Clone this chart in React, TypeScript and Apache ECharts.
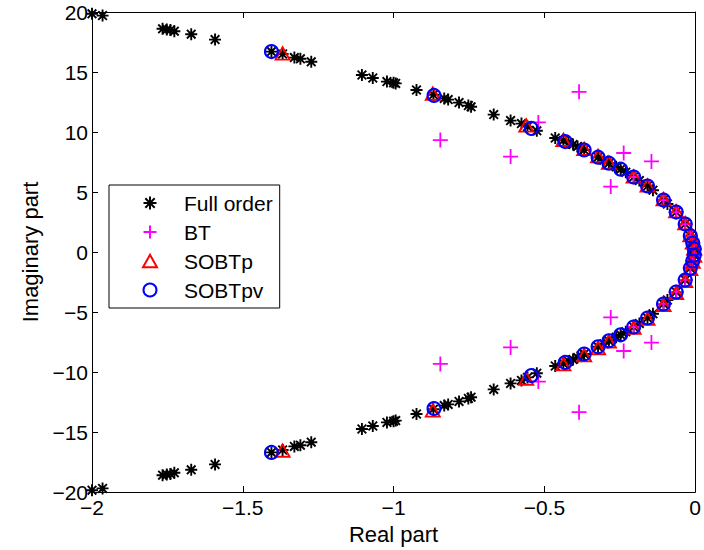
import React, { useEffect, useRef } from "react";
import * as echarts from "echarts";

// Upper-half eigenvalues [real, imag]; the lower half holds their conjugates (as seen in the picture)
const fullOrderUpper: number[][] = [
  [-2.0, 19.85], [-1.965, 19.7], [-1.766, 18.6], [-1.752, 18.55], [-1.74, 18.5], [-1.727, 18.4],
  [-1.671, 18.15], [-1.592, 17.7], [-1.405, 16.7], [-1.368, 16.5], [-1.329, 16.2], [-1.309, 16.1],
  [-1.273, 15.85], [-1.105, 14.75], [-1.069, 14.5], [-1.022, 14.2], [-1.0, 14.1], [-0.993, 14.05],
  [-0.924, 13.5], [-0.868, 13.1], [-0.832, 12.8], [-0.819, 12.7], [-0.783, 12.45], [-0.752, 12.2],
  [-0.743, 12.1], [-0.668, 11.45], [-0.612, 10.95], [-0.576, 10.7], [-0.556, 10.45], [-0.525, 10.1],
  [-0.464, 9.5], [-0.437, 9.3], [-0.42, 9.1], [-0.405, 8.95], [-0.39, 8.8], [-0.378, 8.65],
  [-0.368, 8.5], [-0.322, 7.9], [-0.303, 7.65], [-0.286, 7.4], [-0.262, 7.1], [-0.247, 6.9],
  [-0.23, 6.65], [-0.204, 6.25], [-0.185, 5.95], [-0.158, 5.5], [-0.14, 5.15], [-0.105, 4.33],
  [-0.092, 4.0], [-0.063, 3.33], [-0.033, 2.33], [-0.016, 1.35], [-0.008, 0.75], [-0.003, 0.25],
];

const btUpper: number[][] = [
  [-0.845, 9.33], [-0.612, 7.95], [-0.52, 10.8], [-0.385, 13.35], [-0.237, 8.25], [-0.145, 7.55],
  [-0.28, 5.45], [-0.204, 6.25], [-0.105, 4.33], [-0.063, 3.33], [-0.033, 2.33], [-0.016, 1.35],
  [-0.008, 0.75], [-0.003, 0.25],
];

const sobtpUpper: number[][] = [
  [-1.368, 16.55], [-0.87, 13.2], [-0.56, 10.55], [-0.437, 9.35], [-0.368, 8.6], [-0.322, 8.0],
  [-0.286, 7.45], [-0.204, 6.3], [-0.158, 5.55], [-0.105, 4.4], [-0.063, 3.4], [-0.033, 2.4],
  [-0.016, 1.4], [-0.008, 0.8], [-0.003, 0.3],
];

const sobtpvUpper: number[][] = [
  [-1.405, 16.7], [-0.866, 13.05], [-0.543, 10.3], [-0.431, 9.2], [-0.368, 8.5], [-0.322, 7.9],
  [-0.286, 7.4], [-0.247, 6.9], [-0.204, 6.25], [-0.158, 5.5], [-0.105, 4.33], [-0.063, 3.33],
  [-0.033, 2.33], [-0.016, 1.35], [-0.008, 0.75], [-0.003, 0.25],
];

const seriesNames = ["Full order", "BT", "SOBTp", "SOBTpv"];
const xTicks = { min: -2, max: 0, interval: 0.5 };
const yTicks = { min: -20, max: 20, interval: 5 };

const withConjugates = (pts: number[][]) => [...pts, ...pts.map(([re, im]) => [re, -im])];

const FONT = "'Liberation Sans', Arial, Helvetica, sans-serif";
const fmt = (v: number) => (v < 0 ? "\u2212" + String(Math.abs(v)) : String(v));

const STAR = "path://M0,-1L0,1M-1,0L1,0M-0.72,-0.72L0.72,0.72M-0.72,0.72L0.72,-0.72";
const PLUS = "path://M0,-1L0,1M-1,0L1,0";
const TRI = "path://M0,-1L0.9,0.6L-0.9,0.6Z";

export default function App() {
  const ref = useRef<HTMLDivElement>(null);
  useEffect(() => {
    if (!ref.current) return;
    const chart = echarts.init(ref.current, null, { renderer: "svg" });
    const axisCommon = {
      type: "value" as const,
      axisLine: { show: true, onZero: false, lineStyle: { color: "#000", width: 1 } },
      axisTick: { show: true, inside: true, length: 6, lineStyle: { color: "#000" } },
      splitLine: { show: false },
    };
    chart.setOption({
      animation: false,
      backgroundColor: "#fff",
      grid: { left: 92, right: 5, top: 12, bottom: 58 },
      legend: {
        orient: "vertical",
        left: 109,
        top: 185,
        data: seriesNames,
        borderColor: "#000",
        borderWidth: 1,
        backgroundColor: "#fff",
        padding: [7, 7, 7, 33],
        itemWidth: 14,
        itemHeight: 13,
        itemGap: 7,
        symbolKeepAspect: true,
        textStyle: {
          fontFamily: FONT,
          fontSize: 21,
          color: "#000",
          lineHeight: 22,
          padding: [0, 0, 0, 22],
        },
      },
      xAxis: [
        {
          ...axisCommon,
          position: "bottom",
          min: xTicks.min,
          max: xTicks.max,
          interval: xTicks.interval,
          name: "Real part",
          nameLocation: "middle",
          nameGap: 31,
          nameTextStyle: { fontFamily: FONT, fontSize: 22, color: "#000" },
          axisLabel: { formatter: fmt, fontFamily: FONT, fontSize: 21, color: "#000", margin: 5 },
        },
        {
          ...axisCommon,
          position: "top",
          min: xTicks.min,
          max: xTicks.max,
          interval: xTicks.interval,
          axisLabel: { show: false },
        },
      ],
      yAxis: [
        {
          ...axisCommon,
          position: "left",
          min: yTicks.min,
          max: yTicks.max,
          interval: yTicks.interval,
          name: "Imaginary part",
          nameLocation: "middle",
          nameGap: 40,
          nameTextStyle: { fontFamily: FONT, fontSize: 22, color: "#000" },
          axisLabel: { formatter: fmt, fontFamily: FONT, fontSize: 21, color: "#000", margin: 4 },
        },
        {
          ...axisCommon,
          position: "right",
          min: yTicks.min,
          max: yTicks.max,
          interval: yTicks.interval,
          axisLabel: { show: false },
        },
      ],
      series: [
        {
          name: "Full order",
          type: "scatter",
          data: withConjugates(fullOrderUpper),
          symbol: STAR,
          symbolSize: 12,
          symbolKeepAspect: true,
          itemStyle: { color: "transparent", borderColor: "#000", borderWidth: 1.9, opacity: 1 },
          clip: false,
        },
        {
          name: "BT",
          type: "scatter",
          data: withConjugates(btUpper),
          symbol: PLUS,
          symbolSize: 15,
          symbolKeepAspect: true,
          itemStyle: { color: "transparent", borderColor: "#ff00ff", borderWidth: 1.8, opacity: 1 },
          clip: false,
        },
        {
          name: "SOBTp",
          type: "scatter",
          data: withConjugates(sobtpUpper),
          symbol: TRI,
          symbolSize: 14,
          symbolKeepAspect: true,
          itemStyle: { color: "transparent", borderColor: "#ff0000", borderWidth: 1.9, opacity: 1 },
          clip: false,
        },
        {
          name: "SOBTpv",
          type: "scatter",
          data: withConjugates(sobtpvUpper),
          symbol: "circle",
          symbolSize: 13,
          itemStyle: { color: "transparent", borderColor: "#0000ff", borderWidth: 2, opacity: 1 },
          clip: false,
        },
      ],
    });
    return () => chart.dispose();
  }, []);
  return <div ref={ref} style={{ width: 704, height: 550, position: "absolute", left: 0, top: 0 }} />;
}
